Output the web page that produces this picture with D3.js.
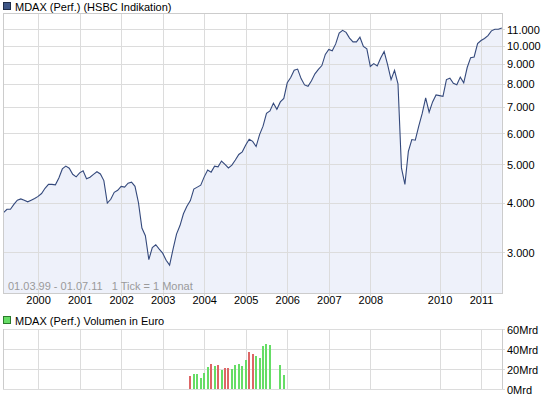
<!DOCTYPE html>
<html>
<head>
<meta charset="utf-8">
<script src="https://cdn.jsdelivr.net/npm/d3@7"></script>
<style>
    body { margin: 0; background: #fff; }
    svg text { font-family: "Liberation Sans", Arial, sans-serif; font-size: 11px; }
</style>
</head>
<body>
<div id="chart"></div>
<script>
// monthly points (MM.YY), Oct 08 - Jan 09 missing in the source
var months = [
    '03.99','04.99','05.99','06.99','07.99','08.99','09.99','10.99','11.99','12.99',
    '01.00','02.00','03.00','04.00','05.00','06.00','07.00','08.00','09.00','10.00','11.00','12.00',
    '01.01','02.01','03.01','04.01','05.01','06.01','07.01','08.01','09.01','10.01','11.01','12.01',
    '01.02','02.02','03.02','04.02','05.02','06.02','07.02','08.02','09.02','10.02','11.02','12.02',
    '01.03','02.03','03.03','04.03','05.03','06.03','07.03','08.03','09.03','10.03','11.03','12.03',
    '01.04','02.04','03.04','04.04','05.04','06.04','07.04','08.04','09.04','10.04','11.04','12.04',
    '01.05','02.05','03.05','04.05','05.05','06.05','07.05','08.05','09.05','10.05','11.05','12.05',
    '01.06','02.06','03.06','04.06','05.06','06.06','07.06','08.06','09.06','10.06','11.06','12.06',
    '01.07','02.07','03.07','04.07','05.07','06.07','07.07','08.07','09.07','10.07','11.07','12.07',
    '01.08','02.08','03.08','04.08','05.08','06.08','07.08','08.08','09.08',
    '02.09','03.09','04.09','05.09','06.09','07.09','08.09','09.09','10.09','11.09','12.09',
    '01.10','02.10','03.10','04.10','05.10','06.10','07.10','08.10','09.10','10.10','11.10','12.10',
    '01.11','02.11','03.11','04.11','05.11','06.11','07.11'
];

var mdax = [
    3775, 3850, 3850, 3960, 4060, 4090, 4060, 4020, 4060, 4100,
    4150, 4220, 4350, 4450, 4450, 4440, 4620, 4870, 4950, 4890, 4720, 4650,
    4760, 4820, 4600, 4640, 4720, 4790, 4730, 4550, 3990, 4080, 4250, 4300,
    4400, 4380, 4480, 4510, 4400, 4000, 3450, 3300, 2870, 3080, 3130, 3050,
    2980, 2860, 2780, 3050, 3330, 3500, 3750, 3920, 4050, 4330, 4380, 4430,
    4650, 4840, 4780, 4950, 4930, 5100, 5000, 4900, 4980, 5130, 5300, 5380,
    5600, 5790, 5720, 5550, 5950, 6250, 6740, 6830, 7150, 6900, 7200, 7350,
    8050, 8300, 8660, 8720, 8250, 7950, 7890, 8150, 8480, 8700, 8900, 9500,
    9780, 9700, 10100, 10750, 10930, 10800, 10450, 10220, 10220, 10500, 9950, 9810,
    8850, 9000, 8880, 9300, 9660, 8950, 8200, 8660, 8000,
    4900, 4450, 5400, 5780, 5760, 6250, 6730, 7370, 6780, 7200, 7500,
    7470, 7440, 8200, 8270, 8030, 7960, 8320, 8050, 8800, 9320, 9360, 10120,
    10300, 10420, 10600, 10900, 11000, 11000, 11080
];

var priceTicks = [3000, 4000, 5000, 6000, 7000, 8000, 9000, 10000, 11000];

// volume in Mrd Euro
var volMonths = [
    '09.03','10.03','11.03','12.03','01.04','02.04','03.04','04.04','05.04','06.04','07.04','08.04',
    '09.04','10.04','11.04','12.04','01.05','02.05','03.05','04.05','05.05','06.05','07.05','08.05',
    '11.05','12.05'
];
var volValues = [13, 15, 15, 11, 16, 22, 25, 23, 24, 19, 21, 21,
                 20, 24, 25, 23, 29, 37, 35, 33, 31, 43, 45, 44,
                 24, 14];
var volDir = ['d','u','u','u','u','u','d','u','d','u','d','d',
              'u','u','u','u','u','d','d','u','u','u','u','u',
              'u','u'];
var volTicks = [0, 20, 40, 60];

var title1 = 'MDAX (Perf.) (HSBC Indikation)';
var title2 = 'MDAX (Perf.) Volumen in Euro';
var rangeText = '01.03.99 - 01.07.11   1 Tick = 1 Monat';

window.Chart = {};

Chart.init = function() {
    var W = 545, H = 398;
    var left = 3, right = 503;
    var top = 13, bottom = 293;      // price panel
    var vTop = 329, vBottom = 389;   // volume panel

    var gridCol = '#dcdcdc', borderCol = '#cccccc';

    var svg = d3.select('#chart').append('svg')
        .attr('width', W).attr('height', H);

    var x = d3.scaleLinear()
        .domain([0, months.length - 1])
        .range([3.5, 501.8]);

    var y = d3.scaleLog()
        .domain([2362, 12094])
        .range([bottom, top]);

    var yv = d3.scaleLinear()
        .domain([0, 60])
        .range([vBottom, vTop]);

    var de = d3.formatLocale({decimal: ',', thousands: '.', grouping: [3], currency: ['', ' €']});

    // year ticks = first month of each year in the series
    var yearIdx = [];
    months.forEach(function(m, i) { if (m.slice(0, 2) === '01') yearIdx.push(i); });

    // ---- titles ----
    function legend(yy, fill, stroke, txt) {
        svg.append('rect').attr('x', 3.5).attr('y', yy - 8.5).attr('width', 7).attr('height', 7)
            .attr('fill', fill).attr('stroke', stroke);
        svg.append('text').attr('x', 15).attr('y', yy).attr('fill', '#000').text(txt);
    }
    legend(11, '#3e5686', '#1f2c48', title1);
    legend(325, '#66dd66', '#2b7a2b', title2);

    // ---- price panel ----
    svg.append('rect').attr('x', left).attr('y', top)
        .attr('width', right - left).attr('height', bottom - top)
        .attr('fill', '#fff');

    var area = d3.area()
        .x(function(d, i) { return x(i); })
        .y0(bottom)
        .y1(function(d) { return y(d); });

    svg.append('path').datum(mdax)
        .attr('d', area)
        .attr('fill', '#eef1fa');

    svg.append('g').selectAll('line').data(priceTicks).join('line')
        .attr('x1', left).attr('x2', right + 2)
        .attr('y1', function(d) { return Math.round(y(d)) + 0.5; })
        .attr('y2', function(d) { return Math.round(y(d)) + 0.5; })
        .attr('stroke', gridCol);

    svg.append('g').selectAll('line').data(yearIdx).join('line')
        .attr('x1', function(d) { return Math.round(x(d)) + 0.5; })
        .attr('x2', function(d) { return Math.round(x(d)) + 0.5; })
        .attr('y1', top).attr('y2', bottom + 3)
        .attr('stroke', gridCol);

    var line = d3.line()
        .x(function(d, i) { return x(i); })
        .y(function(d) { return y(d); });

    svg.append('path').datum(mdax)
        .attr('d', line)
        .attr('fill', 'none')
        .attr('stroke', '#34497c')
        .attr('stroke-width', 1.1);

    svg.append('rect').attr('x', left + 0.5).attr('y', top + 0.5)
        .attr('width', right - left - 1).attr('height', bottom - top)
        .attr('fill', 'none').attr('stroke', borderCol);

    svg.append('text').attr('x', 8).attr('y', 290)
        .attr('fill', '#9a9a9a')
        .style('white-space', 'pre')
        .text(rangeText);

    var yAxis = d3.axisRight(y)
        .tickValues(priceTicks)
        .tickFormat(de.format(','))
        .tickSize(0).tickPadding(4);
    var gy = svg.append('g').attr('transform', 'translate(' + right + ',0.5)').call(yAxis);
    gy.select('.domain').remove();
    gy.selectAll('text').attr('fill', '#000').style('font-size', '11px')
        .style('font-family', '"Liberation Sans", Arial, sans-serif');

    var xAxis = d3.axisBottom(x)
        .tickValues(yearIdx)
        .tickFormat(function(i) { return '20' + months[i].slice(3); })
        .tickSize(0).tickPadding(0);
    var gx = svg.append('g').attr('transform', 'translate(0,' + 296 + ')').call(xAxis);
    gx.select('.domain').remove();
    gx.selectAll('text').attr('fill', '#000').style('font-size', '11px')
        .style('font-family', '"Liberation Sans", Arial, sans-serif');

    // ---- volume panel ----
    svg.append('g').selectAll('line').data(volTicks).join('line')
        .attr('x1', left).attr('x2', right + 2)
        .attr('y1', function(d) { return yv(d) + 0.5; })
        .attr('y2', function(d) { return yv(d) + 0.5; })
        .attr('stroke', gridCol);

    svg.append('g').selectAll('line').data(yearIdx).join('line')
        .attr('x1', function(d) { return Math.round(x(d)) + 0.5; })
        .attr('x2', function(d) { return Math.round(x(d)) + 0.5; })
        .attr('y1', vTop).attr('y2', vBottom)
        .attr('stroke', gridCol);

    svg.append('line').attr('x1', left + 0.5).attr('x2', left + 0.5)
        .attr('y1', vTop).attr('y2', vBottom).attr('stroke', borderCol);
    svg.append('line').attr('x1', right - 0.5).attr('x2', right - 0.5)
        .attr('y1', vTop).attr('y2', vBottom).attr('stroke', borderCol);

    svg.append('g').selectAll('rect').data(volValues).join('rect')
        .attr('x', function(d, i) { return Math.round(x(months.indexOf(volMonths[i]))) - 1; })
        .attr('y', function(d) { return yv(d); })
        .attr('width', 2)
        .attr('height', function(d) { return yv(0) - yv(d); })
        .attr('fill', function(d, i) { return volDir[i] === 'd' ? '#dd6666' : '#66dd66'; });

    var vAxis = d3.axisRight(yv)
        .tickValues(volTicks)
        .tickFormat(function(d) { return d + 'Mrd'; })
        .tickSize(0).tickPadding(4);
    var gv = svg.append('g').attr('transform', 'translate(' + right + ',0.5)').call(vAxis);
    gv.select('.domain').remove();
    gv.selectAll('text').attr('fill', '#000').style('font-size', '11px')
        .style('font-family', '"Liberation Sans", Arial, sans-serif');
};

document.addEventListener('DOMContentLoaded', Chart.init);
</script>
</body>
</html>
